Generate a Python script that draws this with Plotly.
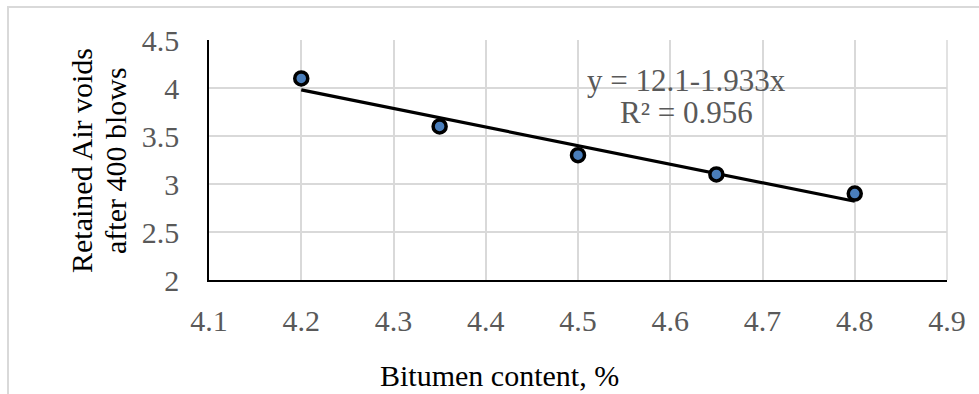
import numpy as np
import plotly.graph_objects as go

bitumen = [4.2, 4.35, 4.5, 4.65, 4.8]
air_voids = [4.1, 3.6, 3.3, 3.1, 2.9]
x_ticks = [4.1, 4.2, 4.3, 4.4, 4.5, 4.6, 4.7, 4.8, 4.9]
y_ticks = [2, 2.5, 3, 3.5, 4, 4.5]

slope, intercept = np.polyfit(bitumen, air_voids, 1)
pred = np.polyval([slope, intercept], bitumen)
r2 = 1 - np.sum((np.array(air_voids) - pred) ** 2) / np.sum((np.array(air_voids) - np.mean(air_voids)) ** 2)
trend_x = [min(bitumen), max(bitumen)]
trend_y = [intercept + slope * v for v in trend_x]

W, H = 979, 394
ML, MR, MT, MB = 209, 32, 40, 114
PW, PH = W - ML - MR, H - MT - MB

def px(xp):
    return (xp - ML) / PW

def py(yp):
    return 1 - (yp - MT) / PH

fig = go.Figure()
fig.add_trace(go.Scatter(x=trend_x, y=trend_y, mode="lines",
                         line=dict(color="black", width=3.2), showlegend=False, hoverinfo="skip"))
fig.add_trace(go.Scatter(x=bitumen, y=air_voids, mode="markers",
                         marker=dict(size=13, color="#4a7ebb", line=dict(color="black", width=3.5)),
                         showlegend=False))

serif = "Liberation Serif"
FS = 30

def ann(text, x, y, color, size=FS, angle=0):
    return dict(text=text, xref="paper", yref="paper", x=px(x), y=py(y),
                xanchor="center", yanchor="middle", showarrow=False, textangle=angle,
                font=dict(family=serif, size=size, color=color))

fig.update_layout(
    width=W, height=H,
    margin=dict(l=ML, r=MR, t=MT, b=MB),
    paper_bgcolor="white", plot_bgcolor="white",
    font=dict(family=serif, size=FS, color="#595959"),
    xaxis=dict(range=[4.1, 4.9], tickvals=x_ticks, ticktext=[f"{v:.1f}" for v in x_ticks],
               showgrid=True, gridcolor="#d9d9d9", gridwidth=1.5,
               showline=True, linecolor="black", linewidth=1.5, mirror=False,
               zeroline=False, ticks="", ticklabelstandoff=13,
               tickfont=dict(family=serif, size=FS, color="#595959")),
    yaxis=dict(range=[2, 4.5], tickvals=y_ticks, ticktext=[f"{v:g}" for v in y_ticks],
               showgrid=True, gridcolor="#d9d9d9", gridwidth=1.5,
               showline=True, linecolor="black", linewidth=1.5,
               zeroline=False, ticks="", ticklabelstandoff=22,
               tickfont=dict(family=serif, size=FS, color="#595959")),
    shapes=[
        dict(type="line", xref="paper", yref="paper", x0=1, x1=1, y0=0, y1=1,
             line=dict(color="#d9d9d9", width=1.5)),
        dict(type="rect", xref="paper", yref="paper",
             x0=px(8), x1=px(990), y0=py(400), y1=py(7),
             line=dict(color="#d9d9d9", width=2), fillcolor="rgba(0,0,0,0)", layer="below"),
    ],
    annotations=[
        ann(f"y = {intercept:.1f}-{abs(slope):.3f}x", 686, 80, "#595959", 31),
        ann(f"R² = {r2:.3f}", 686, 112, "#595959", 31),
        ann("Bitumen content, %", 499, 375, "black"),
        ann("Retained Air voids", 81, 161, "black", angle=-90),
        ann("after 400 blows", 115, 161, "black", angle=-90),
    ],
)
fig.write_html("out.html")
